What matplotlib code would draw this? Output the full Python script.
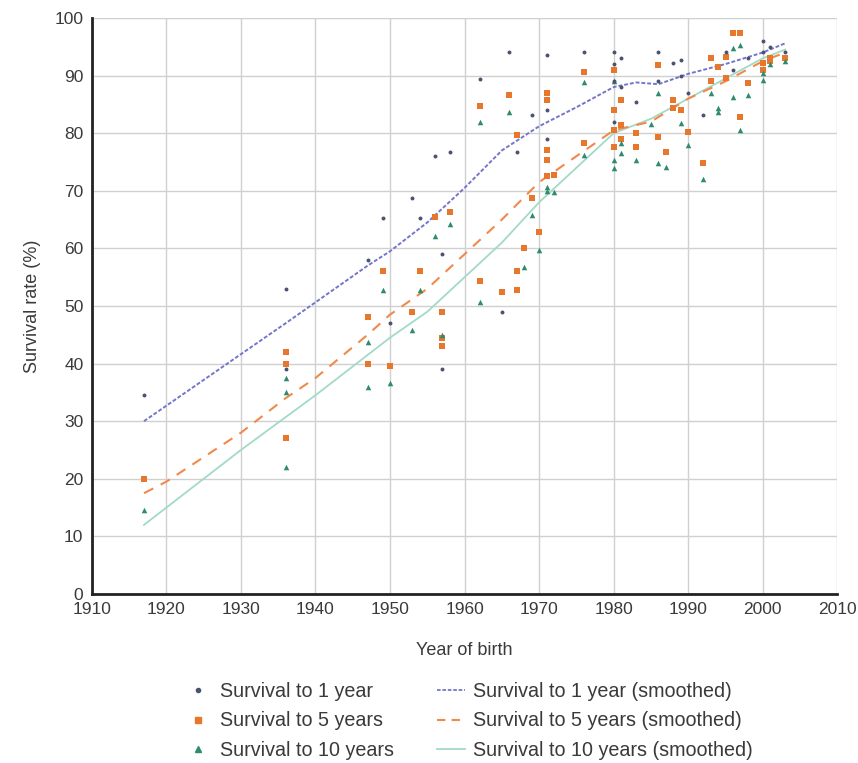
import numpy as np
import matplotlib.pyplot as plt
from matplotlib.lines import Line2D

plt.rcParams['font.family'] = ['Liberation Sans', 'DejaVu Sans']

# survival to 1 year (points)
yr1_x = [1917, 1936, 1936, 1947, 1949, 1950, 1953, 1954, 1956, 1957, 1957, 1958,
         1962, 1965, 1966, 1967, 1969, 1971, 1971, 1971, 1976, 1980, 1980, 1980, 1980,
         1981, 1981, 1983, 1986, 1986, 1988, 1989, 1989, 1990, 1992, 1995, 1996, 1998,
         2000, 2000, 2001, 2003]
yr1_y = [34.5, 53, 39, 58, 65.3, 47, 68.8, 65.3, 76, 59, 39, 76.7,
         89.4, 49, 94, 76.7, 83.2, 93.6, 84, 79, 94, 94, 92, 89, 82,
         93, 88, 85.4, 94, 89, 92.2, 92.7, 90, 87, 83.2, 94, 91, 93,
         94, 96, 95, 94]

# survival to 5 years (points)
yr5_x = [1917, 1936, 1936, 1936, 1947, 1947, 1949, 1950, 1953, 1954, 1956, 1957, 1957, 1957,
         1958, 1962, 1962, 1965, 1966, 1967, 1967, 1967, 1968, 1969, 1970,
         1971, 1971, 1971, 1971, 1971, 1972, 1976, 1976, 1980, 1980, 1980, 1980,
         1981, 1981, 1981, 1983, 1983, 1986, 1986, 1987, 1988, 1988, 1989, 1990, 1992,
         1993, 1993, 1994, 1995, 1995, 1996, 1997, 1997, 1998, 2000, 2000, 2001, 2001, 2003]
yr5_y = [20, 42, 40, 27, 48, 40, 56, 39.5, 49, 56, 65.5, 49, 44.5, 43,
         66.3, 84.7, 54.3, 52.4, 86.6, 79.7, 56, 52.8, 60, 68.8, 62.8,
         87, 85.8, 77, 75.3, 72.5, 72.7, 90.6, 78.3, 91, 84, 80.5, 77.6,
         85.8, 81.4, 79, 80, 77.6, 91.8, 79.3, 76.7, 85.8, 84.4, 84, 80.2, 74.8,
         89, 93, 91.5, 93.3, 89.6, 97.4, 97.4, 82.8, 88.7, 92.2, 91, 92.5, 93, 93]

# survival to 10 years (points)
yr10_x = [1917, 1936, 1936, 1936, 1947, 1947, 1949, 1950, 1953, 1954, 1956, 1957, 1958,
          1962, 1962, 1966, 1968, 1969, 1970, 1971, 1971, 1972, 1976, 1976,
          1980, 1980, 1980, 1981, 1981, 1983, 1985, 1986, 1986, 1987, 1989, 1990,
          1992, 1993, 1994, 1994, 1996, 1996, 1997, 1997, 1998, 2000, 2000, 2001, 2003]
yr10_y = [14.5, 37.5, 35, 22, 43.7, 36, 52.8, 36.6, 45.8, 52.8, 62.2, 45, 64.2,
          82, 50.7, 83.7, 56.8, 65.8, 59.7, 70.7, 70, 69.8, 88.9, 76.2,
          89, 75.3, 74, 76.5, 78.3, 75.3, 81.6, 87, 74.8, 74.1, 81.8, 78,
          72, 87, 84.4, 83.7, 94.8, 86.3, 95.3, 80.6, 86.6, 89.2, 90.4, 92, 92.5]

# smoothed curves
sm1_x = [1917, 1936, 1947, 1950, 1955, 1960, 1965, 1970, 1975, 1980, 1983, 1986, 1990, 1995, 2000, 2003]
sm1_y = [30, 47, 57, 59.5, 64.5, 70.5, 77, 81.2, 84.5, 88, 88.8, 88.5, 90.3, 92, 94, 95.6]
sm5_x = [1917, 1920, 1930, 1936, 1940, 1947, 1950, 1955, 1960, 1965, 1970, 1975, 1980, 1985, 1990, 1995, 2000, 2003]
sm5_y = [17.5, 19.5, 28, 34, 37.5, 45, 48.5, 53, 59, 65, 71.5, 76, 80.5, 82, 86, 89, 92.5, 94]
sm10_x = [1917, 1920, 1930, 1940, 1950, 1955, 1960, 1965, 1970, 1975, 1980, 1985, 1990, 1995, 2000, 2003]
sm10_y = [12, 15, 25, 34.5, 44.5, 49, 55, 61, 68, 74, 80, 82.5, 86, 89.5, 93, 94.5]

c1 = '#4a5270'
c5 = '#e8772e'
c10 = '#2e8b6e'
l1 = '#7377c8'
l5 = '#f08a4c'
l10 = '#a3dac6'
txt = '#3a3a3a'

fig = plt.figure(figsize=(8.58, 7.63), dpi=100)
ax = fig.add_axes([0.107, 0.2215, 0.869, 0.755])

ax.plot(sm10_x, sm10_y, color=l10, lw=1.3, zorder=2)
ax.plot(sm5_x, sm5_y, color=l5, lw=1.5, ls=(0, (5, 4)), zorder=2)
ax.plot(sm1_x, sm1_y, color=l1, lw=1.4, ls=(0, (2, 1)), zorder=2)

ax.scatter(yr5_x, yr5_y, marker='s', s=24, color=c5, zorder=3, linewidths=0)
ax.scatter(yr10_x, yr10_y, marker='^', s=16, color=c10, zorder=3, linewidths=0)
ax.scatter(yr1_x, yr1_y, marker='o', s=8, color=c1, zorder=4, linewidths=0)

ax.set_xlim(1910, 2010)
ax.set_ylim(0, 100)
ax.set_xticks(np.arange(1910, 2011, 10))
ax.set_yticks(np.arange(0, 101, 10))
ax.grid(True, color='#d0d0d0', lw=1)
ax.set_axisbelow(True)
for s in ['top', 'right']:
    ax.spines[s].set_visible(False)
ax.spines['left'].set_color('#222222')
ax.spines['left'].set_linewidth(2)
ax.spines['bottom'].set_color('#222222')
ax.spines['bottom'].set_linewidth(2)
ax.tick_params(length=0, labelsize=12.5, colors=txt, pad=6)

ax.set_xlabel('Year of birth', fontsize=13, color=txt, labelpad=18)
ax.set_ylabel('Survival rate (%)', fontsize=13, color=txt, labelpad=10)

handles = [
    Line2D([], [], ls='none', marker='o', ms=3, color=c1),
    Line2D([], [], ls='none', marker='s', ms=5, color=c5),
    Line2D([], [], ls='none', marker='^', ms=4, color=c10),
    Line2D([], [], color=l1, lw=1.3, ls=(0, (2, 1))),
    Line2D([], [], color=l5, lw=1.5, ls=(0, (4, 3))),
    Line2D([], [], color=l10, lw=1.3),
]
labels = ['Survival to 1 year', 'Survival to 5 years', 'Survival to 10 years',
          'Survival to 1 year (smoothed)', 'Survival to 5 years (smoothed)',
          'Survival to 10 years (smoothed)']
fig.legend(handles, labels, ncol=2, loc='upper center', bbox_to_anchor=(0.546, 0.13),
           frameon=False, fontsize=14.2, handlelength=1.4, handletextpad=0.4,
           columnspacing=2.2, labelspacing=0.55, labelcolor=txt)

fig.savefig('out.png', dpi=100)
